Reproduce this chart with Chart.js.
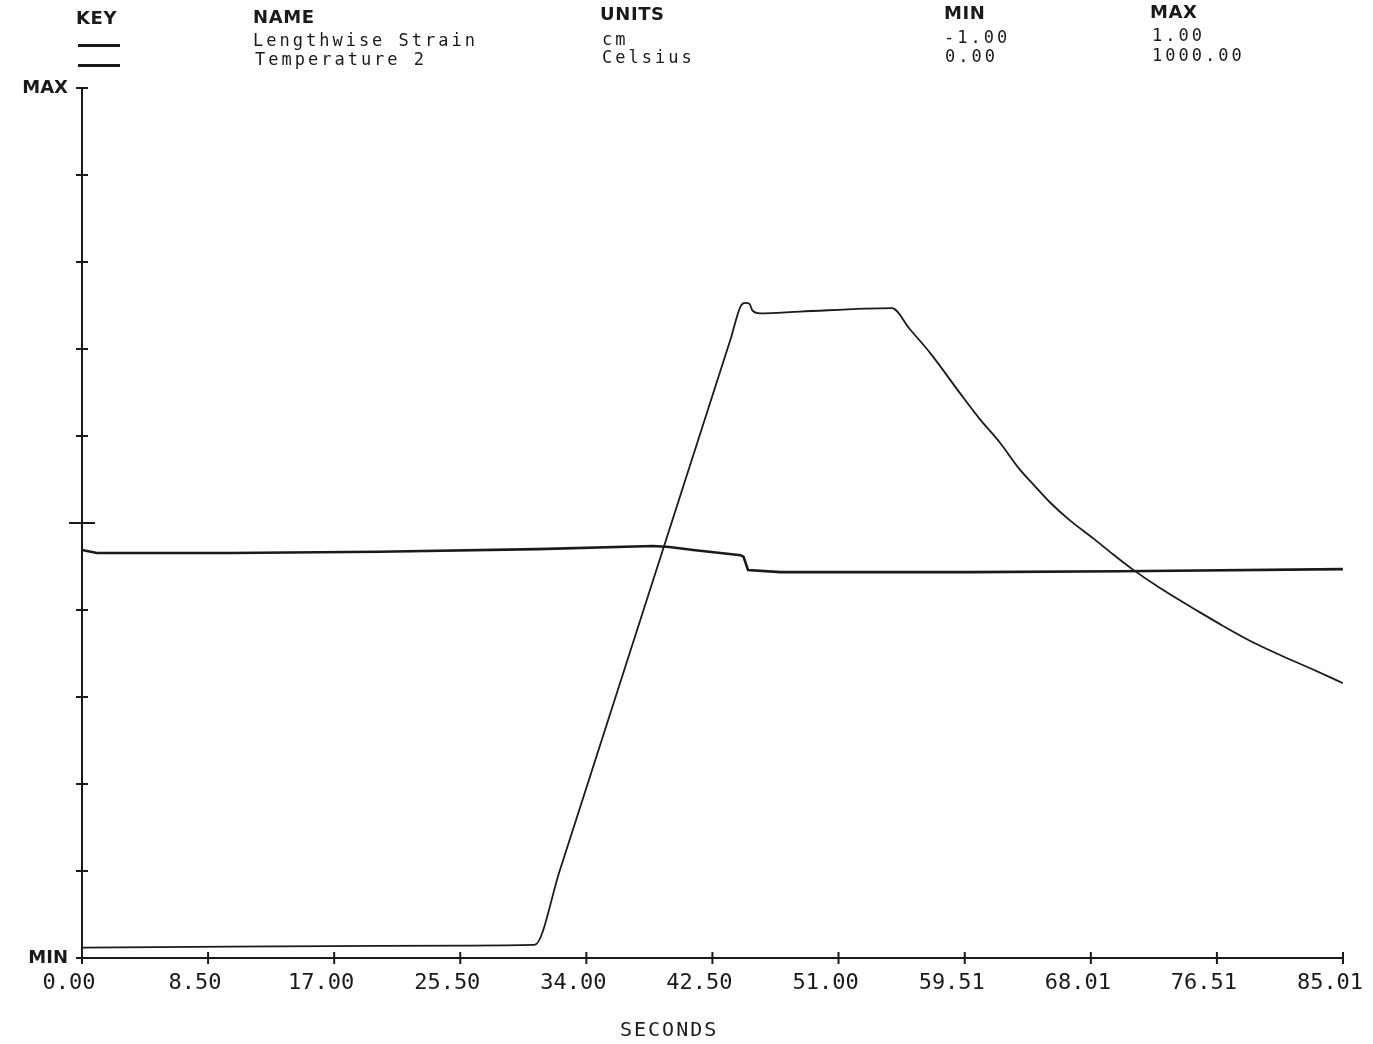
<!DOCTYPE html>
<html>
<head>
<meta charset="utf-8">
<script src="https://cdn.jsdelivr.net/npm/chart.js@4.4.1/dist/chart.umd.min.js"></script>
<style>
  html, body { margin: 0; padding: 0; background: #ffffff; }
  #wrap { position: relative; width: 1373px; height: 1044px; overflow: hidden; }
  canvas { position: absolute; left: 0; top: 0; }
  .h { position: absolute; font-family: 'DejaVu Sans', sans-serif; font-weight: bold; font-size: 18px; line-height: 18px; color: #1a1a1a; white-space: nowrap; letter-spacing: 0.6px; }
  .r { position: absolute; font-family: 'DejaVu Sans Mono', monospace; font-size: 17px; line-height: 17px; color: #1a1a1a; white-space: nowrap; letter-spacing: 3px; }
  .k { position: absolute; height: 3px; background: #1a1a1a; }
  #xt { position: absolute; font-family: 'DejaVu Sans Mono', monospace; font-size: 20px; line-height: 20px; color: #1a1a1a; letter-spacing: 2px; white-space: nowrap; }
</style>
</head>
<body>
<div id="wrap">
  <canvas id="c" width="1373" height="1044"></canvas>
  <div class="h" style="left:76px;top:9px;">KEY</div>
  <div class="h" style="left:253px;top:8px;">NAME</div>
  <div class="h" style="left:600px;top:5px;">UNITS</div>
  <div class="h" style="left:944px;top:4px;">MIN</div>
  <div class="h" style="left:1150px;top:3px;">MAX</div>
  <div class="k" style="left:78px;top:44px;width:42px;"></div>
  <div class="k" style="left:78px;top:64px;width:42px;"></div>
  <div class="r" style="left:253px;top:32px;">Lengthwise Strain</div>
  <div class="r" style="left:602px;top:31px;">cm</div>
  <div class="r" style="left:944px;top:29px;">-1.00</div>
  <div class="r" style="left:1152px;top:27px;">1.00</div>
  <div class="r" style="left:255px;top:51px;">Temperature 2</div>
  <div class="r" style="left:602px;top:49px;">Celsius</div>
  <div class="r" style="left:945px;top:48px;">0.00</div>
  <div class="r" style="left:1152px;top:47px;">1000.00</div>
  <div id="xt" style="left:620px;top:1019px;">SECONDS</div>
</div>
<script>
// ---- data ----
const strainTime = [0, 1.0, 10, 20, 30.7, 38.5, 39.6, 41.2, 44.4, 44.6, 44.9, 47.1, 60, 70, 85.0];
const strainVal  = [-0.062, -0.069, -0.069, -0.066, -0.060, -0.053, -0.055, -0.062, -0.074, -0.078, -0.108, -0.113, -0.113, -0.111, -0.106];

const tempTime = [0, 10, 20, 30.5, 32.2, 43.7, 44.4, 44.7, 45.0, 45.2, 45.7, 48.4, 54.6,
                  55.8, 57.2, 59.2, 60.5, 61.9, 63.2, 64.1, 65.3, 66.6, 68.2, 69.5,
                  70.8, 72.7, 75.4, 76.9, 78.7, 80.8, 82.8, 85.0];
const tempVal  = [12, 13, 14, 15, 100, 710, 749, 753, 752, 744, 741, 743, 747,
                  723, 695, 649, 620, 592, 562, 545, 523, 503, 482, 464,
                  447, 425, 397, 382, 365, 348, 333, 316];

const xTickLabels = ['0.00', '8.50', '17.00', '25.50', '34.00', '42.50', '51.00', '59.51', '68.01', '76.51', '85.01'];
const strainTicks = [-1, -0.8, -0.6, -0.4, -0.2, 0, 0.2, 0.4, 0.6, 0.8, 1];
const yTickLabels = ['MIN', '', '', '', '', '', '', '', '', '', 'MAX'];

const xTickValues = xTickLabels.map(parseFloat);
const INK = '#1a1a1a';

const crossTicks = {
  id: 'crossTicks',
  afterDraw(chart) {
    const ctx = chart.ctx;
    const xs = chart.scales.x, ys = chart.scales.y;
    const left = chart.chartArea.left, bottom = chart.chartArea.bottom;
    ctx.save();
    ctx.strokeStyle = INK;
    ctx.lineWidth = 2;
    ys.ticks.forEach(t => {
      const py = ys.getPixelForValue(t.value);
      const len = Math.abs(t.value) < 1e-9 ? 13 : 6;
      ctx.beginPath();
      ctx.moveTo(left - len, py);
      ctx.lineTo(left + len, py);
      ctx.stroke();
    });
    xs.ticks.forEach(t => {
      const px = xs.getPixelForValue(t.value);
      ctx.beginPath();
      ctx.moveTo(px, bottom - 6);
      ctx.lineTo(px, bottom + 6);
      ctx.stroke();
    });
    ctx.restore();
  }
};

new Chart(document.getElementById('c'), {
  type: 'line',
  data: {
    datasets: [
      {
        label: 'Lengthwise Strain',
        data: strainTime.map((t, i) => ({ x: t, y: strainVal[i] })),
        yAxisID: 'y',
        borderColor: INK,
        borderWidth: 2.6,
        pointRadius: 0,
        tension: 0
      },
      {
        label: 'Temperature 2',
        data: tempTime.map((t, i) => ({ x: t, y: tempVal[i] })),
        yAxisID: 'y2',
        borderColor: INK,
        borderWidth: 1.8,
        borderJoinStyle: 'round',
        pointRadius: 0,
        cubicInterpolationMode: 'monotone'
      }
    ]
  },
  options: {
    responsive: false,
    animation: false,
    devicePixelRatio: 1,
    layout: { padding: { top: 88, right: 30, left: 0, bottom: 0 } },
    plugins: { legend: { display: false }, tooltip: { enabled: false } },
    scales: {
      x: {
        type: 'linear',
        min: 0,
        max: 85.01,
        afterBuildTicks: s => { s.ticks = xTickValues.map(v => ({ value: v })); },
        afterFit: s => { s.height = 86; s.paddingLeft = 0; s.paddingRight = 0; },
        grid: { display: false, drawTicks: false },
        border: { display: true, color: INK, width: 2 },
        ticks: {
          autoSkip: false,
          maxRotation: 0,
          padding: 12,
          labelOffset: -13,
          color: INK,
          font: { family: 'DejaVu Sans Mono', size: 22 },
          callback: (v, i) => xTickLabels[i]
        }
      },
      y: {
        type: 'linear',
        position: 'left',
        min: -1,
        max: 1,
        afterBuildTicks: s => { s.ticks = strainTicks.map(v => ({ value: v })); },
        afterFit: s => { s.width = 82; s.paddingTop = 0; s.paddingBottom = 0; },
        grid: { display: false, drawTicks: false },
        border: { display: true, color: INK, width: 2 },
        ticks: {
          autoSkip: false,
          padding: 14,
          color: INK,
          font: { family: 'DejaVu Sans', size: 18, weight: 'bold' },
          callback: (v, i) => yTickLabels[i]
        }
      },
      y2: {
        type: 'linear',
        display: false,
        min: 0,
        max: 1000
      }
    }
  },
  plugins: [crossTicks]
});
</script>
</body>
</html>
